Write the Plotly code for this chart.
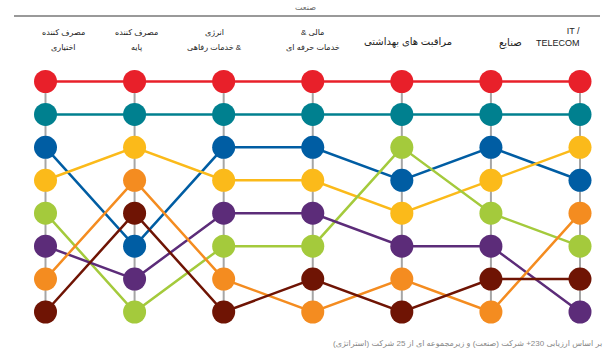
import plotly.graph_objects as go

sectors = ["مصرف کننده اختیاری", "مصرف کننده پایه", "انرژی & خدمات رفاهی",
           "مالی & خدمات حرفه ای", "مراقبت های بهداشتی", "صنایع", "IT / TELECOM"]

# rank (1 = top) of each series in each sector column
red    = [1, 1, 1, 1, 1, 1, 1]
teal   = [2, 2, 2, 2, 2, 2, 2]
blue   = [3, 6, 3, 3, 4, 3, 4]
yellow = [4, 3, 4, 4, 5, 4, 3]
green  = [5, 8, 6, 6, 3, 5, 6]
purple = [6, 7, 5, 5, 6, 6, 8]
orange = [7, 4, 7, 8, 7, 8, 5]
brown  = [8, 5, 8, 7, 8, 7, 7]

series = [
    ("red", red, "#E8202A"),
    ("teal", teal, "#00808F"),
    ("blue", blue, "#005DA3"),
    ("yellow", yellow, "#FBBA1A"),
    ("green", green, "#A4CA3C"),
    ("purple", purple, "#5C2C79"),
    ("orange", orange, "#F48C20"),
    ("brown", brown, "#6F1404"),
]

W, H = 609, 353
x_first_px, x_last_px = 45.5, 580
y_first_px, y_last_px = 81.5, 312
ncol = len(sectors)
dx = (x_last_px - x_first_px) / (ncol - 1)
x0 = -x_first_px / dx
x1 = x0 + W / dx
dy = (y_last_px - y_first_px) / 7
ytop = 1 - y_first_px / dy
ybot = ytop + H / dy

xs = list(range(ncol))
fig = go.Figure()

# gray column connectors
gx, gy = [], []
for i in xs:
    gx += [i, i, None]
    gy += [1, 8, None]
fig.add_trace(go.Scatter(x=gx, y=gy, mode="lines",
                         line=dict(color="#A6A6A6", width=2),
                         hoverinfo="skip", showlegend=False))

for name, vals, col in series:
    fig.add_trace(go.Scatter(x=xs, y=vals, mode="lines",
                             line=dict(color=col, width=2.5),
                             showlegend=False, hoverinfo="skip"))
for name, vals, col in series:
    fig.add_trace(go.Scatter(x=xs, y=vals, mode="markers", name=name,
                             marker=dict(color=col, size=23, line=dict(width=0)),
                             showlegend=False))

def ypap(px):
    return 1 - px / H

font = "Liberation Sans, DejaVu Sans, Arial, sans-serif"
ann = []
small = 8
labels = [
    (0, 33, "مصرف کننده", small), (0, 48, "اختیاری", small),
    (1, 33, "مصرف کننده", small), (1, 48, "پایه", small),
    (2, 33, "انرژی", small), (2, 48, "خدمات رفاهی &", small),
    (3, 32, "& مالی", small), (3, 48, "خدمات حرفه ای", small),
    (4, 42, "مراقبت های بهداشتی", 10), (5, 43, "صنایع", 10),
]
offsets = [0.2, 0.02, -0.1, 0.0, 0.07, 0.22, 0]
for c, py, t, fs in labels:
    ann.append(dict(x=c + offsets[c], y=ypap(py), xref="x", yref="paper", text=t,
                    showarrow=False, font=dict(size=fs, color="#222", family=font),
                    xanchor="center", yanchor="middle"))
ann.append(dict(x=6 + 2 / dx, y=ypap(37), xref="x", yref="paper",
                text="IT /<br>TELECOM", showarrow=False, align="right",
                font=dict(size=9, color="#222", family=font),
                xanchor="right", yanchor="middle"))
ann.append(dict(x=305 / W, y=ypap(8), xref="paper", yref="paper", text="صنعت",
                showarrow=False, font=dict(size=8, color="#666", family=font),
                xanchor="center", yanchor="middle"))
ann.append(dict(x=604 / W, y=ypap(343), xref="paper", yref="paper",
                text="بر اساس ارزیابی 230+ شرکت (صنعت) و زیرمجموعه ای از 25 شرکت (استراتژی)",
                showarrow=False, font=dict(size=8, color="#888", family=font),
                xanchor="right", yanchor="middle"))

fig.update_layout(
    width=W, height=H, margin=dict(l=0, r=0, t=0, b=0),
    paper_bgcolor="white", plot_bgcolor="white",
    xaxis=dict(range=[x0, x1], visible=False, fixedrange=True),
    yaxis=dict(range=[ybot, ytop], visible=False, fixedrange=True),
    annotations=ann,
    shapes=[dict(type="line", xref="paper", yref="paper",
                 x0=14 / W, x1=600 / W, y0=ypap(16), y1=ypap(16),
                 line=dict(color="#777", width=1.5))],
)

fig.write_html("out.html")
